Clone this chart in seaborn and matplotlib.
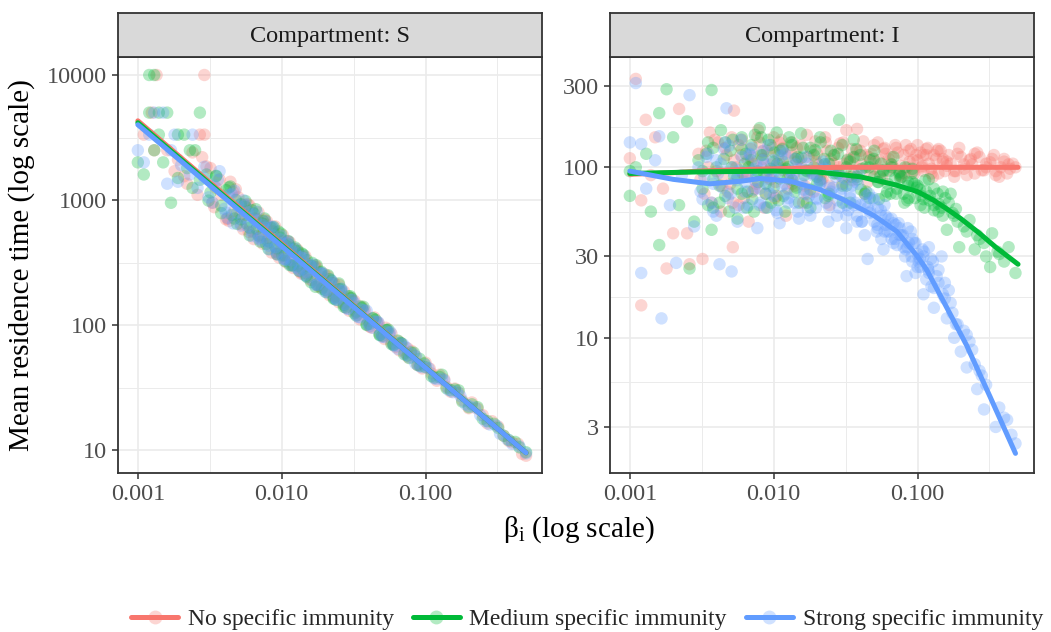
import math
import matplotlib
matplotlib.use("Agg")
import matplotlib.pyplot as plt
import seaborn as sns
import pandas as pd
from matplotlib.lines import Line2D
from matplotlib.legend_handler import HandlerTuple

groups = ["No specific immunity", "Medium specific immunity", "Strong specific immunity"]
colors = ["#F8766D", "#00BA38", "#619CFF"]

# ---------------- Compartment S : points ----------------
s_red_x = [0.00135, 0.0029, 0.00125, 0.0011, 0.0027, 0.0029, 0.0016, 0.0013, 0.0018, 0.0021, 0.0019, 0.0024,
           0.0022, 0.0026, 0.0028, 0.0032, 0.0035, 0.0033, 0.0038, 0.0041, 0.0044, 0.0047, 0.005, 0.0052,
           0.0056, 0.006, 0.0063, 0.0068, 0.0072, 0.0078, 0.0083, 0.0088, 0.0094, 0.01, 0.0107, 0.0115,
           0.0122, 0.013, 0.014, 0.015, 0.0162, 0.0175, 0.019, 0.021, 0.023, 0.025, 0.027, 0.03, 0.033,
           0.036, 0.04, 0.044, 0.048, 0.053, 0.058, 0.065, 0.072, 0.08, 0.09, 0.1, 0.11, 0.125, 0.14, 0.16,
           0.18, 0.21, 0.25, 0.29, 0.35, 0.4, 0.47, 0.5]
s_red_y = [10000, 10000, 5000, 3333, 3333, 3333, 2500, 2500, 1700, 1550, 2100, 2400,
           1350, 1100, 2200, 1800, 1250, 950, 1100, 700, 1400, 820, 1050, 640,
           760, 900, 560, 700, 520, 640, 460, 560, 380, 470, 340, 420,
           300, 380, 260, 310, 230, 290, 200, 245, 170, 210, 150, 165, 125,
           140, 108, 115, 86, 95, 72, 74, 60, 62, 48, 50, 41, 40, 32, 31,
           25, 24, 19, 17, 13, 11.5, 9.3, 9.0]
s_red_x2 = [0.0042, 0.0046, 0.0051, 0.0055, 0.0059, 0.0065, 0.0071, 0.0076, 0.0081, 0.0087,
            0.0092, 0.0098, 0.0104, 0.011, 0.0118, 0.0126, 0.0134, 0.0143, 0.0155, 0.0168,
            0.018, 0.0195, 0.021, 0.0225, 0.024, 0.026, 0.028, 0.031, 0.034, 0.037,
            0.041, 0.046, 0.051, 0.056, 0.062, 0.068, 0.076, 0.085, 0.095, 0.107,
            0.12, 0.135, 0.15, 0.17, 0.2, 0.23, 0.27, 0.32, 0.38, 0.44]
s_red_y2 = [710, 1160, 740, 915, 556, 714, 507, 696, 498, 561,
            370, 457, 361, 467, 334, 375, 266, 347, 265, 289,
            207, 241, 186, 217, 169, 183, 138, 156, 120, 128,
            97, 104.5, 81.4, 84.8, 66.7, 70.7, 55.2, 56.5, 44.9, 44.8,
            35.8, 36.7, 29.2, 28.6, 21.6, 21.4, 16.3, 15.4, 11.8, 11.2]
s_red_x3 = [0.003, 0.0034, 0.0037, 0.0043, 0.0048, 0.0054, 0.0058, 0.0064, 0.0069, 0.0074,
            0.0079, 0.0085, 0.009, 0.0096, 0.0102, 0.0108, 0.0114, 0.012, 0.0128, 0.0137,
            0.0146, 0.0158, 0.017, 0.0183, 0.0198, 0.0215, 0.0232, 0.025, 0.0272, 0.0295,
            0.032, 0.035, 0.038, 0.042, 0.047, 0.052, 0.058, 0.066, 0.075, 0.088]
s_red_y3 = [1856, 876, 1459, 679, 1219, 583, 928, 487, 796, 446,
            675, 380, 615, 346, 523, 317, 459, 286, 403, 257,
            355, 230, 301, 201, 256, 173, 216, 152, 185, 130,
            156, 111, 130, 95.4, 104, 77.3, 85, 62.6, 65, 47.9]
s_green_x = [0.0012, 0.0013, 0.0012, 0.0014, 0.0016, 0.0027, 0.0014, 0.0019, 0.0021, 0.0013, 0.0023, 0.0025,
             0.001, 0.0011, 0.0015, 0.0017, 0.0019, 0.0022, 0.0024, 0.0027, 0.003, 0.0032, 0.0035, 0.0038,
             0.0041, 0.0045, 0.0048, 0.0052, 0.0056, 0.006, 0.0064, 0.0069, 0.0074, 0.008, 0.0086, 0.0092,
             0.0098, 0.0105, 0.0112, 0.012, 0.013, 0.014, 0.015, 0.016, 0.0175, 0.019, 0.021, 0.023, 0.025,
             0.027, 0.03, 0.033, 0.037, 0.041, 0.045, 0.05, 0.055, 0.06, 0.067, 0.075, 0.083, 0.092, 0.1,
             0.115, 0.13, 0.15, 0.17, 0.2, 0.23, 0.27, 0.32, 0.38, 0.45, 0.5]
s_green_y = [10000, 10000, 5000, 5000, 5000, 5000, 3333, 3333, 3333, 2500, 2500, 2500,
             2000, 1600, 2000, 950, 1500, 1800, 1250, 1450, 1600, 1150, 1550, 900,
             1200, 760, 1000, 700, 880, 600, 780, 520, 680, 470, 600, 410,
             500, 360, 440, 300, 390, 280, 330, 220, 300, 195, 250, 165, 215,
             145, 170, 128, 140, 102, 110, 82, 92, 70, 72, 57, 60, 47, 46,
             38, 40, 30, 30, 22, 22, 17, 15, 12, 10.5, 9.6]
s_green_x2 = [0.0043, 0.0047, 0.0052, 0.0057, 0.0062, 0.0067, 0.0073, 0.0078, 0.0084, 0.009,
              0.0095, 0.0101, 0.0107, 0.0114, 0.0122, 0.013, 0.0138, 0.0148, 0.016, 0.0172,
              0.0185, 0.02, 0.0215, 0.023, 0.025, 0.027, 0.029, 0.032, 0.035, 0.039,
              0.043, 0.048, 0.053, 0.058, 0.064, 0.071, 0.079, 0.088, 0.098, 0.11,
              0.125, 0.14, 0.16, 0.18, 0.21, 0.25, 0.3, 0.35, 0.42]
s_green_y2 = [1260, 711, 926, 648, 828, 586, 650, 445, 597, 426,
              560, 360, 432, 301, 405, 297, 374, 248, 297, 202,
              263, 191, 233, 162, 193, 140, 170, 124, 141, 100,
              113, 83.6, 91.2, 70.3, 75.1, 58.4, 60.5, 47.9, 49.2, 39,
              38.4, 31.2, 30.5, 24.4, 23.2, 17.8, 16.2, 13, 11.6]
s_green_x3 = [0.0031, 0.0035, 0.0038, 0.0044, 0.0049, 0.0056, 0.006, 0.0066, 0.0071, 0.0076,
              0.0081, 0.0088, 0.0093, 0.0099, 0.0105, 0.0111, 0.0117, 0.0124, 0.0132, 0.0141,
              0.015, 0.0163, 0.0175, 0.0188, 0.0204, 0.0221, 0.0239, 0.0258, 0.028, 0.0304,
              0.033, 0.036, 0.039, 0.043, 0.048, 0.054, 0.06, 0.068, 0.077, 0.091]
s_green_y3 = [989, 1561, 785, 1282, 644, 982, 521, 844, 464, 712,
              406, 608, 368, 539, 325, 470, 300, 417, 271, 366,
              242, 314, 211, 267, 183, 227, 159, 194, 138, 164,
              119, 137, 101, 113, 83, 91, 69, 71.4, 54.4, 53.6]
s_blue_x = [0.0013, 0.0015, 0.0012, 0.0018, 0.0024, 0.001, 0.0011, 0.0017, 0.0019, 0.0016, 0.002, 0.0023,
            0.0026, 0.0029, 0.0031, 0.0034, 0.0037, 0.004, 0.0043, 0.0046, 0.005, 0.0054, 0.0058, 0.0062,
            0.0066, 0.0071, 0.0076, 0.0082, 0.0087, 0.0093, 0.01, 0.0108, 0.0116, 0.0125, 0.0135, 0.0145,
            0.0158, 0.017, 0.0185, 0.02, 0.022, 0.024, 0.026, 0.029, 0.032, 0.035, 0.039, 0.043, 0.047,
            0.052, 0.057, 0.063, 0.07, 0.078, 0.086, 0.095, 0.105, 0.12, 0.135, 0.155, 0.175, 0.2, 0.24,
            0.28, 0.33, 0.4, 0.5]
s_blue_y = [5000, 5000, 3333, 3333, 3333, 2500, 2000, 2500, 1400, 1350, 1900, 1600,
            1250, 1500, 1050, 1300, 1700, 850, 1100, 650, 900, 720, 800, 560,
            690, 500, 600, 430, 520, 380, 450, 330, 400, 290, 350, 250,
            300, 210, 260, 185, 230, 160, 195, 135, 150, 115, 130, 95, 105,
            80, 88, 68, 70, 55, 56, 46, 45, 37, 36, 29, 27, 22.5, 19,
            16, 13.5, 11.2, 9.4]
s_blue_x2 = [0.0041, 0.0045, 0.0049, 0.0054, 0.0058, 0.0063, 0.0069, 0.0074, 0.008, 0.0085,
             0.0091, 0.0097, 0.0103, 0.0109, 0.0117, 0.0124, 0.0132, 0.0141, 0.015, 0.0163,
             0.0176, 0.019, 0.0205, 0.022, 0.0235, 0.0255, 0.0275, 0.03, 0.033, 0.036,
             0.04, 0.044, 0.049, 0.054, 0.06, 0.066, 0.073, 0.082, 0.091, 0.1,
             0.115, 0.13, 0.145, 0.165, 0.19, 0.22, 0.26, 0.31, 0.37, 0.45]
s_blue_y2 = [792, 1112, 785, 995, 616, 769, 490, 629, 466, 610,
             421, 484, 339, 451, 329, 381, 277, 343, 265, 293,
             210, 256, 191, 214, 164, 189, 147, 159, 121, 133,
             102, 107, 84.6, 88.8, 69, 72, 57.7, 58.5, 46.8, 47.8,
             37.4, 37.1, 30.2, 29.4, 23.2, 21.9, 17, 15.7, 12.2, 10.7]
s_blue_x3 = [0.0029, 0.0033, 0.0036, 0.0042, 0.0047, 0.0052, 0.0056, 0.0062, 0.0067, 0.0072,
             0.0077, 0.0082, 0.0087, 0.0093, 0.0099, 0.0105, 0.0111, 0.0116, 0.0124, 0.0133,
             0.0142, 0.0153, 0.0165, 0.0178, 0.0192, 0.0209, 0.0225, 0.0243, 0.0264, 0.0286,
             0.031, 0.034, 0.037, 0.041, 0.046, 0.05, 0.056, 0.064, 0.073, 0.085]
s_blue_y3 = [1841, 953, 1445, 720, 1185, 624, 911, 515, 807, 471,
             674, 402, 609, 366, 517, 335, 465, 302, 408, 272,
             357, 240, 305, 210, 260, 182, 221, 159, 186, 135,
             159, 116, 131, 98.3, 106, 80.5, 86, 64.5, 66.3, 49.3]

# ---------------- Compartment S : smooth lines ----------------
s_line_x = [0.001, 0.01, 0.1, 0.5]
s_line_red = [4300, 446, 46, 9.5]
s_line_green = [4150, 436, 45.8, 9.5]
s_line_blue = [4000, 427, 45.6, 9.5]

# ---------------- Compartment I : points ----------------
i_red_x = [0.0011, 0.0012, 0.00129, 0.001, 0.0012, 0.0018, 0.002, 0.0025, 0.0032, 0.0052, 0.0022, 0.0053,
           0.0015, 0.0017, 0.0014, 0.0026,
           0.003, 0.0033, 0.0036, 0.004, 0.0043, 0.0046, 0.005, 0.0053, 0.0057, 0.006, 0.0063, 0.0067,
           0.007, 0.0074, 0.0078, 0.0082, 0.0086, 0.009, 0.0095, 0.01, 0.0105, 0.011, 0.0116, 0.0122,
           0.0128, 0.0135, 0.014, 0.015, 0.016, 0.017, 0.018, 0.019, 0.02, 0.0215, 0.023, 0.0245, 0.026,
           0.028, 0.03, 0.032, 0.034, 0.036, 0.038, 0.04, 0.043, 0.046, 0.05, 0.053, 0.057, 0.06, 0.065,
           0.07, 0.075, 0.08, 0.085, 0.09, 0.095, 0.1, 0.105, 0.11, 0.115, 0.12, 0.13, 0.14, 0.15, 0.16,
           0.18, 0.19, 0.21, 0.23, 0.25, 0.27, 0.3, 0.32, 0.35, 0.37, 0.4, 0.44, 0.48]
i_red_y = [330, 15.5, 190, 113, 64, 25.5, 41, 41, 29, 34, 220, 215,
           150, 75, 90, 27,
           120, 70, 160, 95, 55, 130, 80, 110, 60, 145, 90, 48,
           115, 75, 165, 100, 58, 125, 85, 150, 68, 105, 130, 52,
           92, 140, 78, 112, 62, 155, 96, 72, 120, 85, 140, 60, 105,
           130, 80, 165, 110, 92, 168, 125, 70, 115, 98, 140, 85, 120, 105,
           135, 90, 118, 100, 128, 92, 110, 122, 95, 128, 105, 118, 92, 112, 102,
           88, 120, 98, 110, 92, 115, 100, 107, 95, 88, 108, 98, 100]
i_red_x2 = [0.0031, 0.0034, 0.0037, 0.0041, 0.0044, 0.0048, 0.0051, 0.0055, 0.0059, 0.0062,
            0.0065, 0.0069, 0.0072, 0.0076, 0.008, 0.0084, 0.0088, 0.0093, 0.0098, 0.0103,
            0.0108, 0.0113, 0.0119, 0.0125, 0.0132, 0.0138, 0.0145, 0.0155, 0.0165, 0.0175,
            0.0185, 0.0195, 0.0205, 0.022, 0.0235, 0.025, 0.027, 0.029, 0.031, 0.033,
            0.035, 0.037, 0.039, 0.042, 0.045, 0.048, 0.051, 0.055, 0.059, 0.063,
            0.068, 0.073, 0.078, 0.083, 0.088, 0.093, 0.098, 0.108, 0.118, 0.128,
            0.135, 0.145, 0.155, 0.17, 0.2, 0.22, 0.24, 0.28, 0.33, 0.38,
            0.42, 0.46, 0.11, 0.125, 0.14, 0.16, 0.185, 0.25, 0.3, 0.35, 0.4]
i_red_y2 = [85, 125, 62, 140, 90, 72, 150, 100, 118, 66,
            88, 128, 105, 80, 140, 112, 70, 95, 130, 82,
            118, 145, 100, 75, 122, 90, 108, 135, 78, 115,
            92, 142, 104, 86, 125, 112, 96, 138, 105, 88,
            128, 115, 98, 142, 82, 120, 108, 93, 130, 112,
            100, 122, 88, 135, 108, 95, 118, 102, 130, 88,
            112, 125, 95, 105, 115, 90, 104, 96, 112, 100,
            92, 105, 118, 98, 128, 108, 95, 120, 105, 90, 112]
i_red_x3 = [0.0035, 0.0039, 0.0043, 0.0047, 0.0052, 0.0057, 0.0061, 0.0066, 0.0071, 0.0077,
            0.0083, 0.0089, 0.0096, 0.0102, 0.0109, 0.0117, 0.0126, 0.0135, 0.0145, 0.0157,
            0.017, 0.0182, 0.0197, 0.0212, 0.0228, 0.0245, 0.0265, 0.0285, 0.0305, 0.033,
            0.0355, 0.038, 0.041, 0.044, 0.047, 0.05, 0.054, 0.058, 0.062, 0.066,
            0.071, 0.076, 0.081, 0.087, 0.093, 0.1, 0.107, 0.115, 0.125, 0.137,
            0.15, 0.165, 0.18, 0.195, 0.21, 0.235, 0.26, 0.29, 0.34, 0.43]
i_red_y3 = [100, 145, 78, 118, 62, 135, 92, 110, 72, 150,
            124, 88, 104, 66, 140, 96, 116, 80, 130, 100,
            70, 125, 108, 90, 150, 78, 118, 100, 140, 112,
            84, 126, 104, 118, 92, 135, 110, 128, 96, 115,
            130, 102, 92, 125, 110, 135, 100, 118, 92, 125,
            108, 118, 95, 130, 104, 112, 122, 96, 118, 104]
i_green_x = [0.001, 0.001, 0.0011, 0.0014, 0.0016, 0.0016, 0.0018, 0.0025, 0.0026, 0.0037, 0.0037, 0.0013,
             0.002, 0.0022, 0.0028,
             0.003, 0.0032, 0.0035, 0.0038, 0.004, 0.0043, 0.0046, 0.005, 0.0053, 0.0056, 0.006, 0.0063,
             0.0066, 0.007, 0.0073, 0.0077, 0.008, 0.0084, 0.0088, 0.0092, 0.0096, 0.01, 0.0105, 0.011,
             0.0115, 0.012, 0.0126, 0.0132, 0.014, 0.0147, 0.0155, 0.0163, 0.017, 0.018, 0.019, 0.02,
             0.021, 0.0225, 0.024, 0.025, 0.027, 0.0285, 0.03, 0.032, 0.034, 0.036, 0.038, 0.04, 0.043,
             0.046, 0.05, 0.053, 0.056, 0.06, 0.064, 0.068, 0.072, 0.077, 0.082, 0.087, 0.092,
             0.1, 0.11, 0.12, 0.13, 0.14, 0.15, 0.16, 0.17, 0.18, 0.185, 0.195, 0.21, 0.23, 0.25, 0.27,
             0.3, 0.33, 0.32, 0.37, 0.4, 0.43, 0.48]
i_green_y = [68, 95, 100, 55, 35, 208, 287, 186, 25.5, 284, 43, 120,
             150, 60, 48,
             110, 75, 140, 58, 100, 165, 68, 125, 88, 50, 150, 105,
             72, 135, 55, 95, 170, 118, 80, 145, 62, 108, 160, 86,
             128, 55, 100, 140, 72, 115, 158, 90, 62, 130, 100, 80,
             150, 112, 68, 125, 92, 190, 135, 78, 108, 145, 88, 118, 70,
             100, 125, 82, 105, 68, 95, 115, 75, 88, 100, 66, 82,
             78, 65, 85, 60, 61, 72, 43, 70, 52, 57, 34, 45, 49, 33, 38,
             30, 41, 26, 31, 28, 34, 24]
i_green_x2 = [0.0032, 0.0035, 0.0038, 0.0042, 0.0045, 0.0049, 0.0052, 0.0056, 0.006, 0.0064,
              0.0067, 0.0071, 0.0074, 0.0078, 0.0082, 0.0086, 0.009, 0.0095, 0.01, 0.0106,
              0.0111, 0.0117, 0.0122, 0.0128, 0.0135, 0.0142, 0.015, 0.016, 0.017, 0.018,
              0.019, 0.02, 0.0212, 0.0228, 0.0242, 0.026, 0.028, 0.03, 0.032, 0.034,
              0.036, 0.038, 0.041, 0.044, 0.047, 0.05, 0.054, 0.058, 0.062, 0.066,
              0.071, 0.076, 0.081, 0.086, 0.091, 0.096, 0.104, 0.112, 0.122, 0.14,
              0.055, 0.065, 0.075, 0.085, 0.095, 0.105, 0.115, 0.13, 0.15]
i_green_y2 = [95, 60, 130, 78, 112, 55, 145, 88, 70, 120,
              100, 65, 155, 82, 118, 92, 58, 135, 76, 105,
              125, 68, 98, 150, 84, 112, 62, 130, 95, 74,
              118, 88, 140, 66, 105, 92, 120, 78, 100, 62,
              115, 85, 98, 72, 110, 88, 65, 95, 80, 100,
              70, 86, 62, 78, 92, 66, 74, 58, 68, 55,
              88, 70, 92, 64, 80, 60, 72, 56, 52]
i_green_x3 = [0.0034, 0.0038, 0.0042, 0.0046, 0.0051, 0.0056, 0.006, 0.0065, 0.007, 0.0076,
              0.0082, 0.0088, 0.0095, 0.0101, 0.0108, 0.0116, 0.0125, 0.0134, 0.0144, 0.0156,
              0.0168, 0.018, 0.0194, 0.021, 0.0226, 0.0243, 0.0262, 0.0282, 0.0302, 0.0325,
              0.035, 0.0375, 0.0405, 0.0435, 0.0465, 0.0495, 0.0535, 0.0575, 0.0615, 0.066,
              0.07, 0.075, 0.08, 0.086, 0.092, 0.099, 0.106, 0.113, 0.121, 0.13,
              0.138, 0.147, 0.156, 0.165, 0.175, 0.19, 0.22, 0.26, 0.29, 0.36]
i_green_y3 = [120, 85, 62, 140, 100, 75, 128, 58, 110, 90,
              150, 70, 98, 122, 64, 108, 86, 135, 76, 114,
              96, 58, 126, 84, 104, 70, 118, 92, 62, 110,
              88, 128, 74, 100, 66, 112, 82, 96, 72, 104,
              86, 94, 70, 82, 98, 76, 68, 84, 64, 75,
              70, 58, 66, 62, 54, 48, 42, 40, 36, 32]
i_blue_x = [0.0011, 0.001, 0.0012, 0.0016, 0.0026, 0.0047, 0.0012, 0.0021, 0.0042, 0.0051, 0.00166, 0.0013,
            0.0015, 0.0019, 0.0023, 0.0028,
            0.003, 0.0032, 0.0035, 0.0038, 0.004, 0.0043, 0.0046, 0.005, 0.0053, 0.0056, 0.006, 0.0063,
            0.0067, 0.007, 0.0073, 0.0077, 0.008, 0.0084, 0.0088, 0.0092, 0.0096, 0.01, 0.0105, 0.011,
            0.0115, 0.012, 0.0126, 0.0132, 0.014, 0.0147, 0.0155, 0.0163, 0.017, 0.018, 0.019, 0.02,
            0.021, 0.0225, 0.024, 0.025, 0.027, 0.0285, 0.03, 0.032, 0.034, 0.036, 0.038, 0.04, 0.043,
            0.045, 0.046, 0.05, 0.053, 0.056, 0.058, 0.06, 0.064, 0.068, 0.072, 0.077, 0.082, 0.084,
            0.087, 0.092, 0.1, 0.097, 0.105, 0.11, 0.11, 0.115, 0.12, 0.125, 0.13, 0.13, 0.14, 0.147,
            0.155, 0.16, 0.17, 0.18, 0.2, 0.19, 0.22, 0.22, 0.24, 0.26, 0.28, 0.29, 0.35, 0.37, 0.42, 0.48]
i_blue_y = [312, 140, 137, 152, 265, 222, 24, 27.5, 27, 24.5, 13, 75,
            110, 60, 90, 45,
            100, 65, 120, 80, 52, 105, 140, 70, 92, 48, 115, 82,
            60, 130, 98, 44, 75, 110, 58, 135, 88, 68, 102, 47,
            125, 80, 62, 95, 112, 55, 85, 70, 105, 52, 92, 65,
            80, 98, 48, 72, 88, 58, 75, 44, 66, 82, 52, 60, 40,
            29, 70, 48, 58, 38, 33, 52, 42, 47, 35, 40, 30, 23,
            36, 28, 31, 24, 26, 18, 30, 22, 34, 20, 15, 19.6, 25, 30,
            21, 13, 16, 10, 8.3, 12, 10.4, 6.7, 8.5, 5, 6, 3.8, 3.0, 3.9, 3.3, 2.4]
i_blue_x2 = [0.0031, 0.0034, 0.0038, 0.0041, 0.0045, 0.0048, 0.0052, 0.0055, 0.0059, 0.0062,
             0.0066, 0.0069, 0.0073, 0.0076, 0.0081, 0.0085, 0.0089, 0.0094, 0.0099, 0.0104,
             0.0109, 0.0114, 0.012, 0.0127, 0.0134, 0.0142, 0.015, 0.0158, 0.0167, 0.0176,
             0.0186, 0.0197, 0.0208, 0.022, 0.0232, 0.0245, 0.026, 0.0275, 0.029, 0.031,
             0.033, 0.035, 0.037, 0.039, 0.041, 0.044, 0.047, 0.05, 0.053, 0.056,
             0.059, 0.062, 0.066, 0.07, 0.074, 0.079, 0.085, 0.09, 0.095, 0.102,
             0.108, 0.118, 0.124, 0.136, 0.15, 0.175, 0.21, 0.25, 0.3, 0.45,
             0.032, 0.038, 0.045, 0.052, 0.06, 0.068, 0.075, 0.083, 0.092, 0.1, 0.12]
i_blue_y2 = [72, 115, 55, 92, 128, 66, 100, 84, 145, 58,
             90, 118, 74, 102, 62, 125, 86, 70, 110, 56,
             95, 78, 120, 66, 88, 104, 50, 80, 115, 68,
             92, 58, 82, 108, 62, 76, 95, 52, 70, 86,
             56, 78, 62, 92, 48, 68, 55, 64, 44, 52,
             60, 42, 50, 38, 47, 40, 34, 42, 36, 28,
             33, 26, 29, 23, 18, 14, 11, 7, 5.3, 2.7,
             60, 48, 58, 42, 46, 36, 44, 33, 38, 26, 24]
i_blue_x3 = [0.0033, 0.0037, 0.004, 0.0044, 0.0049, 0.0054, 0.0058, 0.0063, 0.0068, 0.0074,
             0.008, 0.0086, 0.0092, 0.0099, 0.0106, 0.0113, 0.0122, 0.0131, 0.014, 0.0151,
             0.0162, 0.0173, 0.0185, 0.0198, 0.0212, 0.0227, 0.0243, 0.026, 0.0278, 0.0298,
             0.032, 0.034, 0.0362, 0.0385, 0.041, 0.0436, 0.0465, 0.0495, 0.0525, 0.0556,
             0.059, 0.0625, 0.066, 0.0705, 0.075, 0.08, 0.0855, 0.091, 0.097, 0.104,
             0.111, 0.119, 0.128, 0.14, 0.155, 0.165, 0.185, 0.23, 0.27, 0.4]
i_blue_y3 = [88, 62, 110, 76, 134, 58, 96, 72, 120, 84,
             60, 104, 78, 92, 54, 116, 70, 86, 62, 98,
             74, 56, 90, 66, 82, 104, 58, 76, 64, 88,
             52, 70, 60, 80, 48, 62, 54, 66, 46, 56,
             42, 50, 38, 46, 40, 34, 44, 30, 36, 29,
             32, 25, 28, 21, 17, 19, 12, 9.5, 6.4, 3.4]

# ---------------- Compartment I : smooth lines ----------------
i_line_red_x = [0.001, 0.002, 0.003, 0.005, 0.01, 0.02, 0.03, 0.05, 0.1, 0.2, 0.5]
i_line_red_y = [91, 93, 95, 96.5, 98, 99.5, 100, 100, 100, 100, 100]
i_line_green_x = [0.001, 0.003, 0.01, 0.02, 0.04, 0.07, 0.1, 0.13, 0.16, 0.2, 0.27, 0.35, 0.5]
i_line_green_y = [92, 94, 95, 94, 88, 79, 72, 64, 57, 50, 41, 34, 27]
i_line_blue_x = [0.001, 0.0015, 0.002, 0.0036, 0.006, 0.008, 0.013, 0.021, 0.03, 0.05, 0.072, 0.1,
                 0.116, 0.16, 0.22, 0.32, 0.48]
i_line_blue_y = [95, 89, 85, 80, 83, 86, 83, 74, 65, 52, 42, 30, 25, 15, 9, 4.5, 2.1]

s_ticks = [10, 100, 1000, 10000]
s_ticklabels = ["10", "100", "1000", "10000"]
i_ticks = [3, 10, 30, 100, 300]
i_ticklabels = ["3", "10", "30", "100", "300"]
x_ticks = [0.001, 0.01, 0.1]
x_ticklabels = ["0.001", "0.010", "0.100"]


def frame(xs, ys, grp):
    return pd.DataFrame({"beta": xs, "time": ys, "group": grp})


pts_S = pd.concat([frame(s_red_x, s_red_y, groups[0]), frame(s_red_x2, s_red_y2, groups[0]),
                   frame(s_red_x3, s_red_y3, groups[0]),
                   frame(s_green_x, s_green_y, groups[1]), frame(s_green_x2, s_green_y2, groups[1]),
                   frame(s_green_x3, s_green_y3, groups[1]),
                   frame(s_blue_x, s_blue_y, groups[2]), frame(s_blue_x2, s_blue_y2, groups[2]),
                   frame(s_blue_x3, s_blue_y3, groups[2])],
                  ignore_index=True)
lin_S = pd.concat([frame(s_line_x, s_line_red, groups[0]), frame(s_line_x, s_line_green, groups[1]),
                   frame(s_line_x, s_line_blue, groups[2])], ignore_index=True)
pts_I = pd.concat([frame(i_red_x, i_red_y, groups[0]), frame(i_red_x2, i_red_y2, groups[0]),
                   frame(i_red_x3, i_red_y3, groups[0]),
                   frame(i_green_x, i_green_y, groups[1]), frame(i_green_x2, i_green_y2, groups[1]),
                   frame(i_green_x3, i_green_y3, groups[1]),
                   frame(i_blue_x, i_blue_y, groups[2]), frame(i_blue_x2, i_blue_y2, groups[2]),
                   frame(i_blue_x3, i_blue_y3, groups[2])],
                  ignore_index=True)
lin_I = pd.concat([frame(i_line_red_x, i_line_red_y, groups[0]), frame(i_line_green_x, i_line_green_y, groups[1]),
                   frame(i_line_blue_x, i_line_blue_y, groups[2])], ignore_index=True)

sns.set_theme(style="white")
plt.rcParams["font.family"] = ["Liberation Serif", "DejaVu Serif"]
plt.rcParams["mathtext.fontset"] = "custom"
plt.rcParams["mathtext.rm"] = "Liberation Serif"
plt.rcParams["mathtext.it"] = "Liberation Serif:italic"

W, H = 1051, 632
fig = plt.figure(figsize=(W / 100, H / 100), dpi=100)
fig.patch.set_facecolor("white")

pw = 424
panel_top, panel_bot = 57, 473
strip_top = 13
lefts = [118, 610]

xlim = (10 ** -3.138, 10 ** -0.19)
ylims = [(10 ** 0.816, 10 ** 4.144), (10 ** 0.207, 10 ** 2.647)]

grid_c = "#EBEBEB"
border_c = "#333333"
text_c = "#4D4D4D"
fs_small = 17.5
fs_title = 21

datasets = [(pts_S, lin_S, s_ticks, s_ticklabels, "Compartment: S"),
            (pts_I, lin_I, i_ticks, i_ticklabels, "Compartment: I")]

for k, (pts, lin, yt, ytl, title) in enumerate(datasets):
    l = lefts[k]
    ax = fig.add_axes([l / W, 1 - panel_bot / H, pw / W, (panel_bot - panel_top) / H])
    ax.set_xscale("log")
    ax.set_yscale("log")
    sns.scatterplot(data=pts, x="beta", y="time", hue="group", hue_order=groups, palette=colors,
                    alpha=0.3, s=80, edgecolor="none", legend=False, ax=ax, zorder=3)
    sns.lineplot(data=lin, x="beta", y="time", hue="group", hue_order=groups, palette=colors,
                 linewidth=3.6, legend=False, ax=ax, estimator=None, sort=True, zorder=4)
    ax.set_xlim(*xlim)
    ax.set_ylim(*ylims[k])
    ax.set_xticks(x_ticks)
    ax.set_xticklabels(x_ticklabels)
    ax.set_yticks(yt)
    ax.set_yticklabels(ytl)
    xm = [10 ** (math.log10(a) + 0.5) for a in [0.001, 0.01, 0.1]]
    lg = [math.log10(v) for v in yt]
    ym = [10 ** ((lg[i] + lg[i + 1]) / 2) for i in range(len(lg) - 1)]
    ax.set_xticks(xm, minor=True)
    ax.set_yticks(ym, minor=True)
    ax.tick_params(which="minor", length=0)
    ax.grid(which="major", color=grid_c, linewidth=1.2, zorder=0)
    ax.grid(which="minor", color=grid_c, linewidth=0.7, zorder=0)
    ax.set_axisbelow(True)
    ax.tick_params(which="major", length=4, width=1.1, color=border_c, labelcolor=text_c,
                   labelsize=fs_small, pad=4, left=True, bottom=True)
    for sp in ax.spines.values():
        sp.set_color(border_c)
        sp.set_linewidth(1.3)
    ax.set_xlabel("")
    ax.set_ylabel("")
    sax = fig.add_axes([l / W, 1 - panel_top / H, pw / W, (panel_top - strip_top) / H])
    sax.set_facecolor("#D9D9D9")
    sax.set_xticks([])
    sax.set_yticks([])
    for sp in sax.spines.values():
        sp.set_color(border_c)
        sp.set_linewidth(1.3)
    sax.text(0.5, 0.47, title, ha="center", va="center", fontsize=fs_small, color="#1A1A1A",
             transform=sax.transAxes)

fig.text(22 / W, 1 - 265 / H, "Mean residence time (log scale)", rotation=90, ha="center",
         va="center", fontsize=fs_title, color="black")
fig.text(579 / W, 1 - 530 / H, "β$_{\\mathrm{i}}$ (log scale)", ha="center", va="center",
         fontsize=fs_title, color="black")

handles = []
for c in colors:
    pt = Line2D([], [], linestyle="none", marker="o", markersize=10, markerfacecolor=c,
                markeredgecolor="none", alpha=0.3)
    ln = Line2D([], [], color=c, linewidth=3.6)
    handles.append((pt, ln))
fig.legend(handles, groups, loc="center", bbox_to_anchor=(587 / W, 1 - 619 / H), ncol=3,
           frameon=False, fontsize=17, handlelength=2.0, handletextpad=0.4, columnspacing=0.8,
           borderpad=0.2, handler_map={tuple: HandlerTuple(ndivide=1)})

fig.savefig("out.png", dpi=100, facecolor="white")
